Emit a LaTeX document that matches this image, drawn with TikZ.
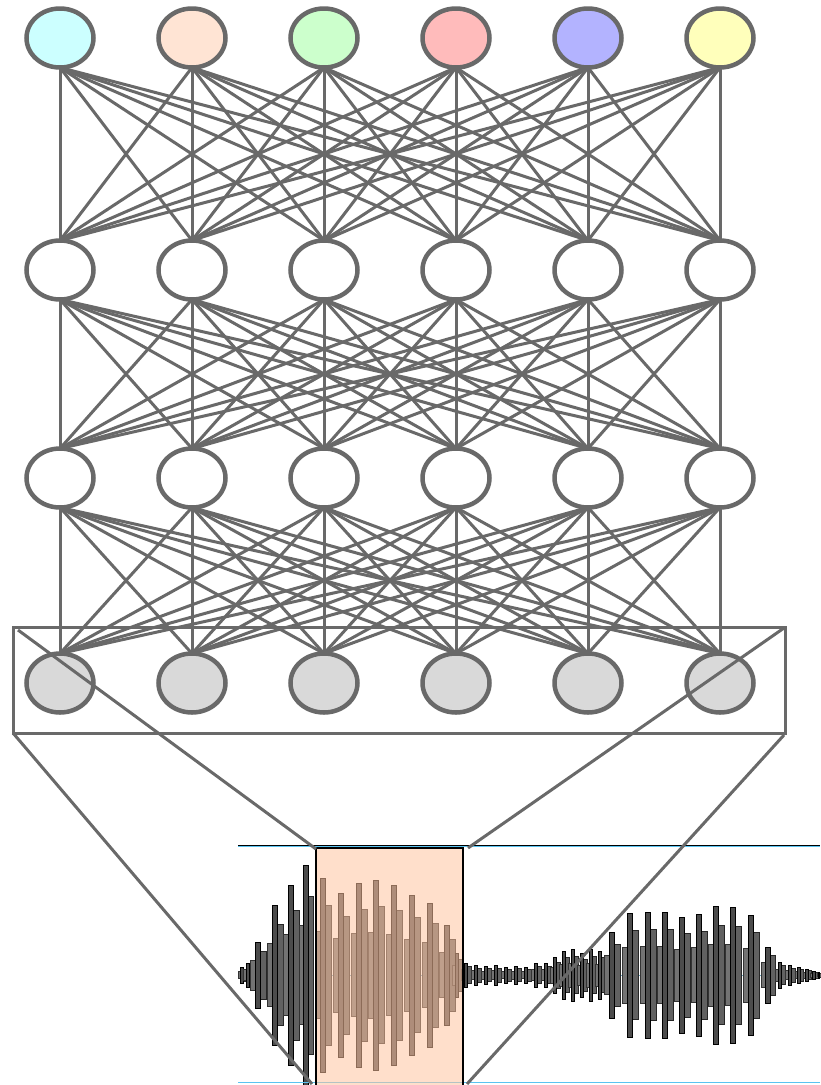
\documentclass[tikz,border=0pt]{standalone}
\usetikzlibrary{shapes.geometric}
\definecolor{lg}{RGB}{105,105,105}
\definecolor{cA}{RGB}{204,255,255}
\definecolor{cB}{RGB}{255,228,212}
\definecolor{cC}{RGB}{204,255,204}
\definecolor{cD}{RGB}{255,187,187}
\definecolor{cE}{RGB}{179,179,255}
\definecolor{cF}{RGB}{255,255,187}
\definecolor{cG}{RGB}{217,217,217}
\definecolor{peach}{RGB}{255,196,160}
\definecolor{sky}{RGB}{90,195,240}
\tikzset{
  neuron/.style={ellipse, draw=lg, line width=4.5pt, minimum width=67pt, minimum height=59pt, inner sep=0pt, fill=white},
  edge/.style={draw=lg, line width=3pt},
  frameline/.style={draw=lg, line width=3pt},
  wshoulder/.style={fill=black!55, draw=black!80, line width=0.4pt},
  wsecond/.style={fill=black!62, draw=black!85, line width=0.5pt},
  wpeak/.style={fill=black!70, draw=black, line width=0.8pt},
}
\begin{document}
\begin{tikzpicture}[x=1pt,y=-1pt]
\useasboundingbox (0,0) rectangle (820,1085);
% node positions
\foreach \r/\y in {1/38,2/270,3/478,4/683}{
  \foreach \c in {1,...,6}{
    \pgfmathsetmacro{\xx}{60+132*(\c-1)}
    \coordinate (p\r-\c) at (\xx,\y);
  }
}
% edges
\foreach \r/\s in {1/2,2/3,3/4}{
  \foreach \i in {1,...,6}{
    \foreach \j in {1,...,6}{
      \draw[edge] ([yshift=-29.5pt]p\r-\i) -- ([yshift=29.5pt]p\s-\j);
    }
  }
}
\foreach \c/\col in {1/cA,2/cB,3/cC,4/cD,5/cE,6/cF}{
  \node[neuron, fill=\col] (n1-\c) at (p1-\c) {};
  \node[neuron] (n2-\c) at (p2-\c) {};
  \node[neuron] (n3-\c) at (p3-\c) {};
  \node[neuron, fill=cG] (n4-\c) at (p4-\c) {};
}
% input frame
\coordinate (ftl) at (13,627);
\coordinate (fbr) at (785,733);
\draw[frameline] (ftl) rectangle (fbr);
% waveform
\draw[sky!60!gray, line width=0.8pt, dash pattern=on 5pt off 5pt] (238,975) -- (820,975);
\foreach \x/\a/\w in {242/8/4,248/12/5,258/33/8,275/70/8,291/90/8,306/110/7,
323/97/8,341/82/8,359/92/8,376/95/8,394/90/8,412/80/8,430/72/8,447/50/8,457/22/5,
466/12/5,476/10/5,486/9/5,496/10/5,506/8/5,516/9/5,526/8/5,536/12/5,546/12/5,
555/18/5,564/24/5,573/26/5,582/22/5,591/26/5,600/24/5,612/43/8,630/62/8,648/63/8,665/63/8,682/58/8,699/61/8,716/69/8,733/68/8,751/60/8,768/28/7,
780/13/5,790/10/5,799/8/4,807/6/4,814/4/4,819/3/2}{
  \draw[wshoulder] (\x-\w,975-0.45*\a) rectangle (\x+\w,975+0.45*\a);
  \draw[wsecond] (\x+0.3*\w,975-0.72*\a) rectangle (\x+\w,975+0.72*\a);
  \draw[wpeak] (\x-0.35*\w,975-\a) rectangle (\x+0.3*\w,975+\a);
}
% guide lines
\draw[sky, line width=1.6pt] (238,846.5) -- (820,846.5);
\draw[black, line width=0.7pt] (238,845) -- (820,845);
\draw[sky, line width=1.8pt] (238,1082.5) -- (820,1082.5);
% analysis window
\coordinate (wtl) at (316,848);
\coordinate (wbr) at (463,1095);
\draw[fill=peach, fill opacity=0.55, draw=black, line width=2.5pt] (wtl) rectangle (wbr);
% projection lines
\coordinate (rtl) at (18,630);
\coordinate (rbl) at (13,733);
\coordinate (rtr) at (784,628);
\coordinate (rbr) at (784,735);
\coordinate (atl) at (316,849);
\coordinate (abl) at (312,1084);
\coordinate (atr) at (468,848);
\coordinate (abr) at (467,1084);
\draw[frameline] (rtl) -- (atl);
\draw[frameline] (rbl) -- (abl);
\draw[frameline] (rtr) -- (atr);
\draw[frameline] (rbr) -- (abr);
\end{tikzpicture}
\end{document}
